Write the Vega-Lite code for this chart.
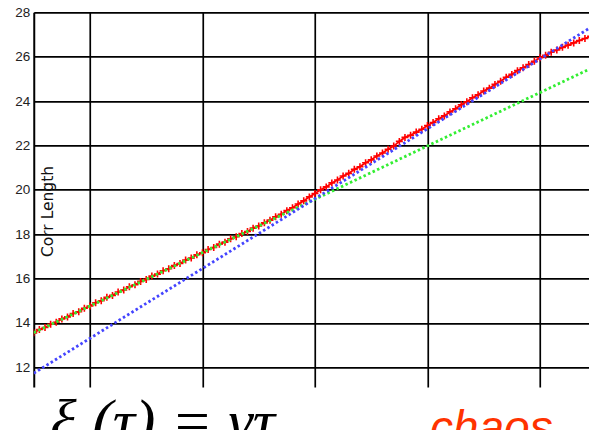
{
  "$schema": "https://vega.github.io/schema/vega-lite/v6.json",
  "width": 555.25,
  "height": 374.7,
  "autosize": {"type": "none"},
  "padding": {"left": 33.75, "top": 12.3, "right": 0, "bottom": 43},
  "background": "white",
  "config": {"view": {"stroke": null}},
  "datasets": {
    "obs": [
      {"tau": 0.50, "len": 13.55}, {"tau": 0.55, "len": 13.70}, {"tau": 0.60, "len": 13.79}, {"tau": 0.65, "len": 13.94},
      {"tau": 0.70, "len": 14.03}, {"tau": 0.75, "len": 14.18}, {"tau": 0.80, "len": 14.27}, {"tau": 0.85, "len": 14.42},
      {"tau": 0.90, "len": 14.50}, {"tau": 0.95, "len": 14.66}, {"tau": 1.00, "len": 14.76}, {"tau": 1.05, "len": 14.91},
      {"tau": 1.10, "len": 15.00}, {"tau": 1.15, "len": 15.15}, {"tau": 1.20, "len": 15.24}, {"tau": 1.25, "len": 15.39},
      {"tau": 1.30, "len": 15.48}, {"tau": 1.35, "len": 15.63}, {"tau": 1.40, "len": 15.72}, {"tau": 1.45, "len": 15.87},
      {"tau": 1.50, "len": 15.96}, {"tau": 1.55, "len": 16.11}, {"tau": 1.60, "len": 16.20}, {"tau": 1.65, "len": 16.35},
      {"tau": 1.70, "len": 16.44}, {"tau": 1.75, "len": 16.59}, {"tau": 1.80, "len": 16.68}, {"tau": 1.85, "len": 16.83},
      {"tau": 1.90, "len": 16.92}, {"tau": 1.95, "len": 17.07}, {"tau": 2.00, "len": 17.16}, {"tau": 2.05, "len": 17.31},
      {"tau": 2.10, "len": 17.40}, {"tau": 2.15, "len": 17.55}, {"tau": 2.20, "len": 17.64}, {"tau": 2.25, "len": 17.79},
      {"tau": 2.30, "len": 17.88}, {"tau": 2.35, "len": 18.03}, {"tau": 2.40, "len": 18.12}, {"tau": 2.45, "len": 18.27},
      {"tau": 2.50, "len": 18.37}, {"tau": 2.55, "len": 18.51}, {"tau": 2.60, "len": 18.63}, {"tau": 2.65, "len": 18.78},
      {"tau": 2.70, "len": 18.90}, {"tau": 2.75, "len": 19.06}, {"tau": 2.80, "len": 19.19}, {"tau": 2.85, "len": 19.36},
      {"tau": 2.90, "len": 19.50}, {"tau": 2.95, "len": 19.68}, {"tau": 3.00, "len": 19.83}, {"tau": 3.05, "len": 20.00},
      {"tau": 3.10, "len": 20.13}, {"tau": 3.15, "len": 20.31}, {"tau": 3.20, "len": 20.44}, {"tau": 3.25, "len": 20.62},
      {"tau": 3.30, "len": 20.74}, {"tau": 3.35, "len": 20.92}, {"tau": 3.40, "len": 21.04}, {"tau": 3.45, "len": 21.22},
      {"tau": 3.50, "len": 21.35}, {"tau": 3.55, "len": 21.52}, {"tau": 3.60, "len": 21.66}, {"tau": 3.65, "len": 21.83},
      {"tau": 3.70, "len": 21.97}, {"tau": 3.75, "len": 22.18}, {"tau": 3.80, "len": 22.36}, {"tau": 3.85, "len": 22.46},
      {"tau": 3.90, "len": 22.60}, {"tau": 3.95, "len": 22.73}, {"tau": 4.00, "len": 22.90}, {"tau": 4.05, "len": 23.03},
      {"tau": 4.10, "len": 23.20}, {"tau": 4.15, "len": 23.33}, {"tau": 4.20, "len": 23.51}, {"tau": 4.25, "len": 23.65},
      {"tau": 4.30, "len": 23.83}, {"tau": 4.35, "len": 23.97}, {"tau": 4.40, "len": 24.15}, {"tau": 4.45, "len": 24.28},
      {"tau": 4.50, "len": 24.45}, {"tau": 4.55, "len": 24.58}, {"tau": 4.60, "len": 24.75}, {"tau": 4.65, "len": 24.89},
      {"tau": 4.70, "len": 25.07}, {"tau": 4.75, "len": 25.20}, {"tau": 4.80, "len": 25.37}, {"tau": 4.85, "len": 25.50},
      {"tau": 4.90, "len": 25.65}, {"tau": 4.95, "len": 25.79}, {"tau": 5.00, "len": 25.95}, {"tau": 5.05, "len": 26.06},
      {"tau": 5.10, "len": 26.20}, {"tau": 5.15, "len": 26.30}, {"tau": 5.20, "len": 26.42}, {"tau": 5.25, "len": 26.52},
      {"tau": 5.30, "len": 26.62}, {"tau": 5.35, "len": 26.73}, {"tau": 5.40, "len": 26.82}, {"tau": 5.45, "len": 26.92}
    ],
    "fits": [
      {"fit": "early", "tau": 0.5, "len": 13.56}, {"fit": "early", "tau": 5.436, "len": 25.43},
      {"fit": "late", "tau": 0.5, "len": 11.73}, {"fit": "late", "tau": 5.436, "len": 27.27}
    ],
    "notes": [
      {"note": "formula", "tau": 0.644, "len": 8.63, "text": "ξ (τ) = γτ"},
      {"note": "remark", "tau": 4.022, "len": 8.6, "text": "chaos"}
    ]
  },
  "encoding": {
    "x": {
      "field": "tau", "type": "quantitative",
      "scale": {"domain": [0.5, 5.436], "nice": false, "zero": false},
      "axis": {
        "values": [1, 2, 3, 4, 5], "labels": false, "ticks": false, "domain": false,
        "grid": true, "gridColor": "#000000", "gridWidth": 1.7, "gridOpacity": 1, "title": null
      }
    },
    "y": {
      "field": "len", "type": "quantitative",
      "scale": {"domain": [11.11, 28], "nice": false, "zero": false},
      "axis": {
        "values": [12, 14, 16, 18, 20, 22, 24, 26, 28],
        "ticks": false, "tickSize": 0,
        "domain": true, "domainColor": "#000000", "domainWidth": 2,
        "grid": true, "gridColor": "#000000", "gridWidth": 1.7, "gridOpacity": 1,
        "labelFont": "Liberation Sans", "labelFontSize": 13.5, "labelColor": "#222222", "labelPadding": 4,
        "title": "Corr Length", "titleX": 14, "titleY": 198.7, "titleAngle": -90,
        "titleAlign": "center", "titleBaseline": "middle",
        "titleFont": "DejaVu Sans", "titleFontSize": 15.5, "titleFontWeight": "normal", "titleColor": "#111111"
      }
    }
  },
  "layer": [
    {
      "data": {"name": "obs"},
      "mark": {"type": "line", "color": "#ff0000", "strokeWidth": 1.8, "clip": true}
    },
    {
      "data": {"name": "obs"},
      "mark": {"type": "point", "shape": "M0,-1V1M-1,0H1", "size": 49, "filled": false,
               "stroke": "#ff0000", "strokeWidth": 1.6, "opacity": 1, "clip": true}
    },
    {
      "data": {"name": "fits"},
      "transform": [{"filter": "datum.fit === 'early'"}],
      "mark": {"type": "line", "color": "#33ee33", "strokeWidth": 2.8, "strokeDash": [2.5, 2.5], "clip": true}
    },
    {
      "data": {"name": "fits"},
      "transform": [{"filter": "datum.fit === 'late'"}],
      "mark": {"type": "line", "color": "#4444ff", "strokeWidth": 2.8, "strokeDash": [2.5, 2.5], "clip": true}
    },
    {
      "data": {"name": "notes"},
      "transform": [{"filter": "datum.note === 'formula'"}],
      "mark": {"type": "text", "align": "left", "baseline": "alphabetic",
               "font": "Liberation Serif", "fontStyle": "italic", "fontSize": 62, "color": "#000000"},
      "encoding": {"text": {"field": "text"}}
    },
    {
      "data": {"name": "notes"},
      "transform": [{"filter": "datum.note === 'remark'"}],
      "mark": {"type": "text", "align": "left", "baseline": "alphabetic",
               "font": "Liberation Sans", "fontStyle": "italic", "fontSize": 46, "color": "#ff3300"},
      "encoding": {"text": {"field": "text"}}
    }
  ]
}
